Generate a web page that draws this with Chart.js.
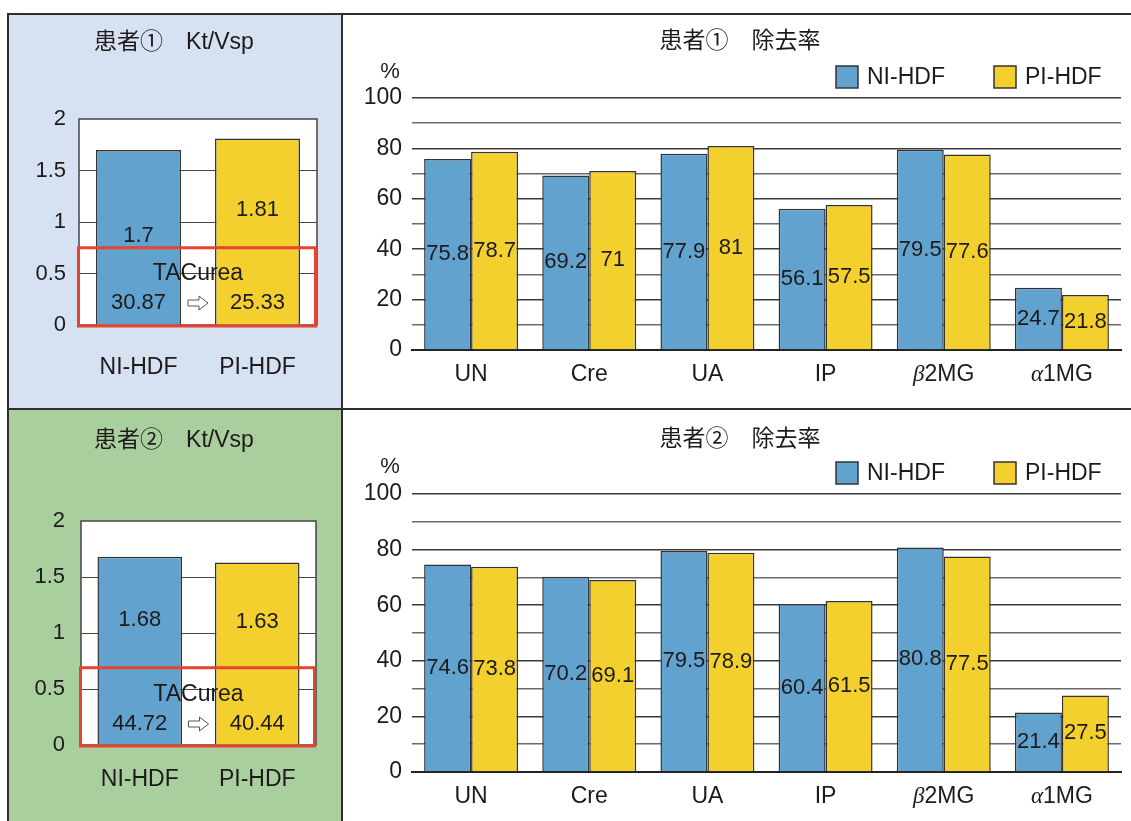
<!DOCTYPE html>
<html><head><meta charset="utf-8">
<script src="https://cdn.jsdelivr.net/npm/chart.js@4.4.0/dist/chart.umd.min.js"></script>
<style>
body{margin:0;background:#fff;}
#fig{position:relative;width:1131px;height:821px;overflow:hidden;background:#fff;}
.ln{position:absolute;background:#2e2e2e;}
canvas{position:absolute;}
</style></head><body>
<div id="fig">
<canvas id="c1" width="332" height="393" style="left:9px;top:15px;width:332px;height:393px;background:#d6e1f1"></canvas>
<canvas id="c2" width="788" height="393" style="left:343px;top:15px;width:788px;height:393px;background:#fff"></canvas>
<canvas id="c3" width="332" height="411" style="left:9px;top:410px;width:332px;height:411px;background:#a9cf9e"></canvas>
<canvas id="c4" width="788" height="411" style="left:343px;top:410px;width:788px;height:411px;background:#fff"></canvas>
<div class="ln" style="left:7px;top:13px;width:1124px;height:2px"></div>
<div class="ln" style="left:7px;top:13px;width:2px;height:808px"></div>
<div class="ln" style="left:341px;top:13px;width:2px;height:808px"></div>
<div class="ln" style="left:7px;top:408px;width:1124px;height:2px"></div>
</div>
<script>
// ---- data ----
const ktCategories = ['NI-HDF', 'PI-HDF'];
const ktTicks = [0, 0.5, 1, 1.5, 2];
const kt1Values = [1.7, 1.81];
const kt2Values = [1.68, 1.63];
const kt1LabelAt = [0.86, 1.12];
const kt2LabelAt = [1.12, 1.10];
const tac1Values = ['30.87', '25.33'];
const tac2Values = ['44.72', '40.44'];
const kt1BoxTop = 0.75;
const kt2BoxTop = 0.69;

const remCategories = ['UN', 'Cre', 'UA', 'IP', 'β2MG', 'α1MG'];
const remSeries = ['NI-HDF', 'PI-HDF'];
const rem1NI = [75.8, 69.2, 77.9, 56.1, 79.5, 24.7];
const rem1PI = [78.7, 71, 81, 57.5, 77.6, 21.8];
const rem2NI = [74.6, 70.2, 79.5, 60.4, 80.8, 21.4];
const rem2PI = [73.8, 69.1, 78.9, 61.5, 77.5, 27.5];
const remTicks = [0, 10, 20, 30, 40, 50, 60, 70, 80, 90, 100];

// ---- style ----
const BLUE = '#62a2cf';
const YELLOW = '#f4d02f';
const RED = '#e8432e';
const TXT = '#1e1a1b';
const FONT = '"Liberation Sans", Arial, "Noto Sans CJK JP", sans-serif';

function drawCat(ctx, label, x, y, size) {
  ctx.fillStyle = TXT;
  ctx.textBaseline = 'middle';
  if (/^[\u03b1-\u03c9]/.test(label)) {
    const g = label[0], rest = label.slice(1);
    ctx.font = 'italic ' + size + 'px "Liberation Serif", "DejaVu Serif", serif';
    const gw = ctx.measureText(g).width;
    ctx.font = size + 'px ' + FONT;
    const rw = ctx.measureText(rest).width;
    const x0 = x - (gw + rw) / 2;
    ctx.textAlign = 'left';
    ctx.font = 'italic ' + size + 'px "Liberation Serif", "DejaVu Serif", serif';
    ctx.fillText(g, x0, y);
    ctx.font = size + 'px ' + FONT;
    ctx.fillText(rest, x0 + gw, y);
  } else {
    ctx.textAlign = 'center';
    ctx.font = size + 'px ' + FONT;
    ctx.fillText(label, x, y);
  }
}

function drawArrow(ctx, cx, cy) {
  ctx.save();
  ctx.beginPath();
  ctx.moveTo(cx - 10, cy - 3);
  ctx.lineTo(cx + 1, cy - 3);
  ctx.lineTo(cx + 1, cy - 7);
  ctx.lineTo(cx + 10, cy);
  ctx.lineTo(cx + 1, cy + 7);
  ctx.lineTo(cx + 1, cy + 3);
  ctx.lineTo(cx - 10, cy + 3);
  ctx.closePath();
  ctx.fillStyle = '#fff';
  ctx.fill();
  ctx.strokeStyle = '#555';
  ctx.lineWidth = 1;
  ctx.stroke();
  ctx.restore();
}

function ktChart(id, values, labelAt, tac, boxTop, L) {
  new Chart(document.getElementById(id), {
    type: 'bar',
    data: { labels: ktCategories, datasets: [{ data: values, backgroundColor: [BLUE, YELLOW], borderColor: '#333', borderWidth: 1.5, categoryPercentage: 1, barPercentage: L.barPct }] },
    options: {
      responsive: false, animation: false, devicePixelRatio: 1,
      layout: { padding: { top: L.top, right: L.right, bottom: 0, left: 0 } },
      plugins: { legend: { display: false }, tooltip: { enabled: false } },
      scales: {
        x: { ticks: { display: false }, grid: { display: false }, border: { display: false }, afterFit: s => { s.height = L.bottom; } },
        y: {
          min: 0, max: 2,
          afterBuildTicks: s => { s.ticks = ktTicks.map(v => ({ value: v })); },
          ticks: { autoSkip: false, padding: L.tickPad, color: TXT, font: { family: FONT, size: 22 }, callback: v => String(v) },
          grid: { drawTicks: false, lineWidth: 1, color: c => (c.tick && (c.tick.value === 0 || c.tick.value === 2)) ? 'rgba(0,0,0,0)' : '#444' },
          border: { display: false },
          afterFit: s => { s.width = L.left; }
        }
      }
    },
    plugins: [{
      id: 'kt' + id,
      beforeDraw(ch) {
        const a = ch.chartArea, c = ch.ctx;
        c.save(); c.fillStyle = '#fff'; c.fillRect(a.left, a.top, a.right - a.left, a.bottom - a.top); c.restore();
      },
      beforeDatasetsDraw(ch) {
        const a = ch.chartArea, c = ch.ctx;
        c.save(); c.strokeStyle = '#444'; c.lineWidth = 1.5;
        c.strokeRect(a.left, a.top, a.right - a.left, a.bottom - a.top); c.restore();
      },
      afterDatasetsDraw(ch) {
        const a = ch.chartArea, c = ch.ctx, ys = ch.scales.y;
        const bars = ch.getDatasetMeta(0).data;
        c.save();
        c.fillStyle = TXT; c.textAlign = 'center'; c.textBaseline = 'middle';
        c.font = '22px ' + FONT;
        bars.forEach((b, i) => c.fillText(String(values[i]), b.x, ys.getPixelForValue(labelAt[i])));
        // red box
        const yt = ys.getPixelForValue(boxTop), yb = ys.getPixelForValue(0) + 1;
        c.strokeStyle = RED; c.lineWidth = 3;
        c.strokeRect(a.left - 0.5, yt, a.right - a.left - 1, yb - yt);
        const cx = (a.left + a.right) / 2;
        c.fillStyle = TXT; c.font = '23px ' + FONT;
        c.fillText('TACurea', cx, yb - L.tacOff);
        c.font = '22px ' + FONT;
        bars.forEach((b, i) => c.fillText(tac[i], b.x, yb - L.numOff));
        drawArrow(c, cx, yb - L.numOff);
        c.restore();
      },
      afterDraw(ch) {
        const c = ch.ctx, xs = ch.scales.x;
        c.save();
        c.fillStyle = TXT; c.textAlign = 'center'; c.textBaseline = 'middle';
        c.font = '23px ' + FONT;
        c.fillText(L.title, L.titleX, L.titleY);
        ktCategories.forEach((lab, i) => drawCat(c, lab, xs.getPixelForValue(i), L.catY, 23));
        c.restore();
      }
    }]
  });
}

function remChart(id, ni, pi, L) {
  new Chart(document.getElementById(id), {
    type: 'bar',
    data: {
      labels: remCategories,
      datasets: [
        { label: remSeries[0], data: ni, backgroundColor: BLUE, borderColor: '#333', borderWidth: 1.5, categoryPercentage: 0.795, barPercentage: 1 },
        { label: remSeries[1], data: pi, backgroundColor: YELLOW, borderColor: '#333', borderWidth: 1.5, categoryPercentage: 0.795, barPercentage: 1 }
      ]
    },
    options: {
      responsive: false, animation: false, devicePixelRatio: 1,
      layout: { padding: { top: L.top, right: L.right, bottom: 0, left: 0 } },
      plugins: { legend: { display: false }, tooltip: { enabled: false } },
      scales: {
        x: { ticks: { display: false }, grid: { display: false }, border: { display: true, color: '#222', width: 2 }, afterFit: s => { s.height = L.bottom; } },
        y: {
          min: 0, max: 100,
          afterBuildTicks: s => { s.ticks = remTicks.map(v => ({ value: v })); },
          ticks: { autoSkip: false, padding: 10, color: TXT, font: { family: FONT, size: 23 }, callback: v => (v % 20 === 0 ? String(v) : '') },
          grid: { drawTicks: false, lineWidth: 1.5, color: c => (c.tick && c.tick.value % 20 === 0) ? '#3a3a3a' : '#6a6a6a' },
          border: { display: false },
          afterFit: s => { s.width = L.left; }
        }
      }
    },
    plugins: [{
      id: 'rem' + id,
      afterDatasetsDraw(ch) {
        const c = ch.ctx;
        c.save();
        c.fillStyle = TXT; c.textAlign = 'center'; c.textBaseline = 'middle';
        c.font = '22px ' + FONT;
        [ni, pi].forEach((vals, d) => {
          ch.getDatasetMeta(d).data.forEach((b, i) => c.fillText(String(vals[i]), b.x, (b.y + b.base) / 2));
        });
        c.restore();
      },
      afterDraw(ch) {
        const c = ch.ctx, xs = ch.scales.x;
        c.save();
        c.fillStyle = TXT; c.textAlign = 'center'; c.textBaseline = 'middle';
        c.font = '23px ' + FONT;
        c.fillText(L.title, L.titleX, L.titleY);
        c.font = '22px ' + FONT;
        c.fillText('%', L.pctX, L.pctY);
        remCategories.forEach((lab, i) => drawCat(c, lab, xs.getPixelForValue(i), L.catY, 23));
        // legend
        const cols = [BLUE, YELLOW];
        L.legX.forEach((lx, k) => {
          c.fillStyle = cols[k];
          c.fillRect(lx, L.legY - 11, 22, 22);
          c.strokeStyle = '#333'; c.lineWidth = 1.5;
          c.strokeRect(lx, L.legY - 11, 22, 22);
          c.fillStyle = TXT; c.textAlign = 'left'; c.font = '23px ' + FONT;
          c.fillText(remSeries[k], lx + 31, L.legY + 1);
        });
        c.restore();
      }
    }]
  });
}

ktChart('c1', kt1Values, kt1LabelAt, tac1Values, kt1BoxTop,
  { top: 104, right: 24, bottom: 83, left: 70, tickPad: 13, barPct: 0.714, title: '患者①　Kt/Vsp', titleX: 165, titleY: 28, catY: 353, tacOff: 52, numOff: 23 });
ktChart('c3', kt2Values, kt2LabelAt, tac2Values, kt2BoxTop,
  { top: 111, right: 25, bottom: 76, left: 72, tickPad: 16, barPct: 0.72, title: '患者②　Kt/Vsp', titleX: 165, titleY: 31, catY: 370, tacOff: 51, numOff: 22 });
remChart('c2', rem1NI, rem1PI,
  { top: 83, right: 10, bottom: 58, left: 69, title: '患者①　除去率', titleX: 397, titleY: 27, pctX: 47, pctY: 57, catY: 360, legX: [493, 651], legY: 62 });
remChart('c4', rem2NI, rem2PI,
  { top: 84, right: 10, bottom: 49, left: 69, title: '患者②　除去率', titleX: 397, titleY: 30, pctX: 47, pctY: 57, catY: 387, legX: [493, 651], legY: 63 });
</script>
</body></html>
